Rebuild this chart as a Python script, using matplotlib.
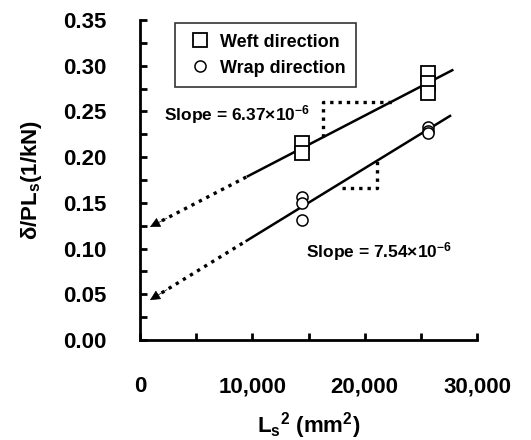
import matplotlib
matplotlib.use("Agg")
import matplotlib.pyplot as plt
from matplotlib import font_manager as fm

# ---- data ----
weft_x = [14400, 14400, 25600, 25600, 25600]
weft_y = [0.216, 0.204, 0.292, 0.281, 0.270]
wrap_x = [14400, 14400, 14400, 25600, 25600, 25600]
wrap_y = [0.156, 0.150, 0.131, 0.233, 0.229, 0.226]

weft_slope, weft_icpt = 6.37e-6, 0.118
wrap_slope, wrap_icpt = 7.54e-6, 0.037
solid_start = [9600, 9500]
line_end = [27800, 27600]
extrap_x = 890

weft_tri = [16300, 22400]
wrap_tri = [18000, 21100]

xticks = [0, 10000, 20000, 30000]
xticklabels = ["0", "10,000", "20,000", "30,000"]
yticks = [0.00, 0.05, 0.10, 0.15, 0.20, 0.25, 0.30, 0.35]

names = {f.name for f in fm.fontManager.ttflist}
fam = "Liberation Sans Narrow" if "Liberation Sans Narrow" in names else "Liberation Sans"
plt.rcParams["font.family"] = [fam, "DejaVu Sans"]
plt.rcParams["font.weight"] = "bold"
plt.rcParams["mathtext.fontset"] = "custom"
plt.rcParams["mathtext.rm"] = fam + ":bold"
plt.rcParams["mathtext.bf"] = fam + ":bold"
plt.rcParams["mathtext.it"] = fam + ":bold"

fig = plt.figure(figsize=(5.31, 4.40), dpi=100)
ax = fig.add_axes([140/531, 100/440, 337/531, 320/440])

ax.set_xlim(0, 30000)
ax.set_ylim(0, 0.35)

def fline(x, s, b):
    return b + s * x

dot = (0, (1, 1.5))

# fit lines
for s, b, x0, x1 in [(weft_slope, weft_icpt, solid_start[0], line_end[0]),
                     (wrap_slope, wrap_icpt, solid_start[1], line_end[1])]:
    ax.plot([x0, x1], [fline(x0, s, b), fline(x1, s, b)], color="k", lw=1.8, zorder=3)
    ax.plot([extrap_x + 400, x0], [fline(extrap_x + 400, s, b), fline(x0, s, b)],
            color="k", lw=2.4, linestyle=dot, zorder=3)
    ax.annotate("", xy=(extrap_x, fline(extrap_x, s, b)),
                xytext=(extrap_x + 1500, fline(extrap_x + 1500, s, b)),
                arrowprops=dict(arrowstyle="-|>", color="k", lw=0.5, mutation_scale=16,
                                shrinkA=0, shrinkB=0), zorder=4)

# slope triangles
xa, xb = weft_tri
ya, yb = fline(xa, weft_slope, weft_icpt), fline(xb, weft_slope, weft_icpt)
ax.plot([xa, xa, xb], [ya, yb, yb], color="k", lw=2.4, linestyle=dot, zorder=2)
xa, xb = wrap_tri
ya, yb = fline(xa, wrap_slope, wrap_icpt), fline(xb, wrap_slope, wrap_icpt)
ax.plot([xa, xb, xb], [ya - 0.006, ya - 0.006, yb], color="k", lw=2.4,
        linestyle=dot, zorder=2)

# markers
ax.plot(weft_x, weft_y, linestyle="none", marker="s", ms=10, mfc="white",
        mec="k", mew=1.3, zorder=5, label="Weft direction")
ax.plot(wrap_x, wrap_y, linestyle="none", marker="o", ms=8, mfc="white",
        mec="k", mew=1.1, zorder=5, label="Wrap direction")

leg = ax.legend(loc="upper left", bbox_to_anchor=(3100/30000, 0.347/0.35),
                frameon=True, fancybox=False, edgecolor="k", fontsize=13,
                handletextpad=0.3, borderpad=0.6, labelspacing=0.5,
                handlelength=1.6, borderaxespad=0)
leg.get_frame().set_linewidth(1.2)
for t in leg.get_texts():
    t.set_fontweight("bold")

ax.text(2100, 0.247, r"Slope = 6.37$\times$10$^{\mathregular{-6}}$", fontsize=12.5,
        fontweight="bold", va="center", ha="left")
ax.text(14800, 0.097, r"Slope = 7.54$\times$10$^{\mathregular{-6}}$", fontsize=12.5,
        fontweight="bold", va="center", ha="left")

# spines and ticks
ax.spines["top"].set_visible(False)
ax.spines["right"].set_visible(False)
ax.spines["left"].set_linewidth(2)
ax.spines["bottom"].set_linewidth(2)
ax.set_xticks(xticks)
ax.set_xticklabels(xticklabels)
ax.set_xticks([5000, 15000, 25000], minor=True)
ax.set_yticks(yticks)
ax.set_yticklabels([f"{v:.2f}" for v in yticks])
ax.set_yticks([0.025, 0.075, 0.125, 0.175, 0.225, 0.275, 0.325], minor=True)
ax.tick_params(axis="both", which="both", direction="in", width=2, length=5,
               labelsize=16)
ax.tick_params(axis="x", which="major", pad=26)
ax.tick_params(axis="y", which="major", pad=24)
for t in ax.get_xticklabels() + ax.get_yticklabels():
    t.set_fontweight("bold")

ax.set_xlabel(r"L$_\mathregular{s}$$^\mathregular{2}$ (mm$^\mathregular{2}$)",
              fontsize=16, fontweight="bold", labelpad=9)
ax.set_ylabel(r"δ/PL$_\mathregular{s}$(1/kN)", fontsize=16, fontweight="bold", labelpad=14)

fig.savefig("out.png", dpi=100)
